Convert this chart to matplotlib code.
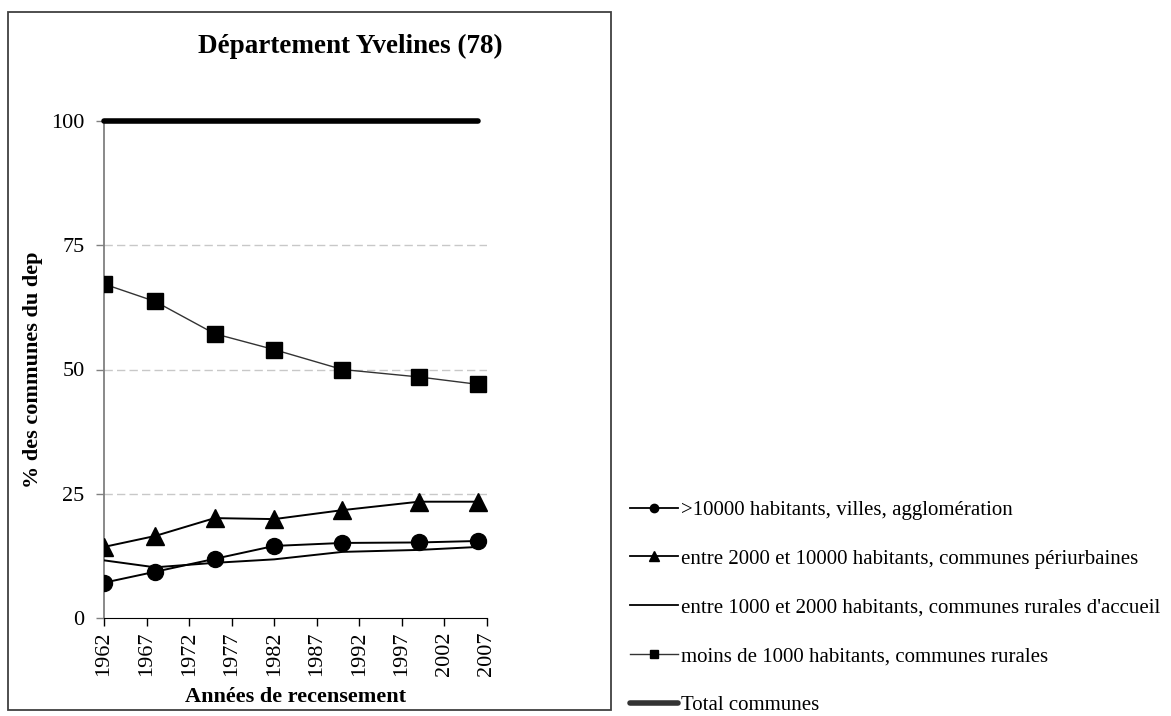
import matplotlib.pyplot as plt
from matplotlib.lines import Line2D
from matplotlib.patches import Rectangle

plt.rcParams['font.family'] = ['Liberation Serif', 'DejaVu Serif']

years = [1962, 1968, 1975, 1982, 1990, 1999, 2006]
villes = [7.1, 9.3, 11.9, 14.5, 15.1, 15.2, 15.5]
periurbaines = [14.3, 16.5, 20.1, 19.9, 21.7, 23.4, 23.4]
rurales_accueil = [11.6, 10.2, 11.1, 11.8, 13.3, 13.7, 14.3]
rurales = [67.2, 63.7, 57.2, 54.0, 50.0, 48.5, 47.0]
total = [100, 100, 100, 100, 100, 100, 100]

labels = [
    ">10000 habitants, villes, agglomération",
    "entre 2000 et 10000 habitants, communes périurbaines",
    "entre 1000 et 2000 habitants, communes rurales d'accueil",
    "moins de 1000 habitants, communes rurales",
    "Total communes",
]
xticks = list(range(1962, 2008, 5))
yticks = [0, 25, 50, 75, 100]

W, H = 1171, 716
fig = plt.figure(figsize=(W / 100, H / 100), dpi=100)
ax = fig.add_axes([104 / W, 1 - 618 / H, 383 / W, 497 / H])

# outer chart frame
fig.add_artist(Rectangle((8 / W, 1 - 710 / H), 603 / W, 698 / H, transform=fig.transFigure,
                         fill=False, edgecolor='#404040', linewidth=1.3))

ax.plot(years, villes, color='black', lw=1.4, marker='o', ms=11.5, zorder=4)
ax.plot(years, periurbaines, color='black', lw=1.4, marker='^', ms=13, zorder=4)
ax.plot(years, rurales_accueil, color='black', lw=1.4, zorder=3)
ax.plot(years, rurales, color='#333333', lw=1.0, marker='s', ms=11.5, mfc='black', mec='black', zorder=4)
ax.plot(years, total, color='black', lw=4, solid_capstyle='round', clip_on=False, zorder=5)

ax.set_xlim(1962, 2007)
ax.set_ylim(0, 100)
ax.set_xticks(xticks)
ax.set_xticklabels([str(t) for t in xticks], rotation=90, fontsize=16)
ax.set_yticks(yticks)
ax.set_yticklabels([str(t) for t in yticks], fontsize=16)
ax.tick_params(axis='both', direction='out', length=6, width=1, pad=4)
ax.tick_params(axis='y', colors='#808080', labelcolor='black', pad=8)

for y in [25, 50, 75]:
    ax.axhline(y, color='#c8c8c8', lw=1, ls=(0, (6, 3)), zorder=1)

for s in ['top', 'right']:
    ax.spines[s].set_visible(False)
ax.spines['left'].set_color('#808080')
ax.spines['left'].set_linewidth(1.3)
ax.spines['bottom'].set_color('black')

ax.set_xlabel("Années de recensement", fontsize=16, fontweight='bold', labelpad=8)
ax.set_ylabel("% des communes du dep", fontsize=16, fontweight='bold', labelpad=6)
fig.text(350 / W, 1 - 46 / H, "Département Yvelines (78)", fontsize=19.5, fontweight='bold',
         ha='center', va='center')

handles = [
    Line2D([], [], color='black', lw=1.3, marker='o', ms=6),
    Line2D([], [], color='black', lw=1.3, marker='^', ms=7),
    Line2D([], [], color='black', lw=1.3),
    Line2D([], [], color='#333333', lw=1.0, marker='s', ms=6, mfc='black', mec='black'),
    Line2D([], [], color='#333333', lw=4, solid_capstyle='round'),
]
fig.legend(handles, labels, loc='upper left', bbox_to_anchor=(622 / W, 1 - 492 / H),
           frameon=False, fontsize=15, handlelength=2.3, handletextpad=0.15,
           labelspacing=1.40, borderaxespad=0)

fig.savefig('out.png', dpi=100)
